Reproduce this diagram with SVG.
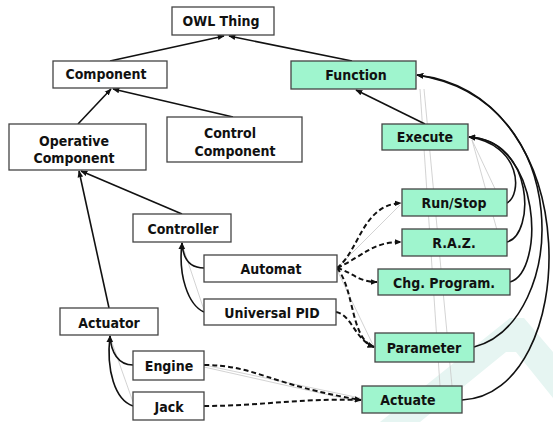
<svg xmlns="http://www.w3.org/2000/svg" width="553" height="422" viewBox="0 0 553 422">
<defs>
<marker id="ah" viewBox="0 0 10 10" refX="9" refY="5" markerWidth="7" markerHeight="7" orient="auto" markerUnits="userSpaceOnUse">
<path d="M0,1 L10,5 L0,9 z" fill="#111"/>
</marker>
<style>
.box{fill:#fff;stroke:#444;stroke-width:1.3}
.fn{fill:#9ff5ce;stroke:#444;stroke-width:1.3}
.t{font-family:"DejaVu Sans Condensed","DejaVu Sans",sans-serif;font-stretch:condensed;font-size:14px;font-weight:bold;fill:#111;text-anchor:middle}
.c{fill:none;stroke:#111;stroke-width:1.6}
.d{fill:none;stroke:#111;stroke-width:2;stroke-dasharray:5,3}
.g{fill:none;stroke:#c8c8c8;stroke-width:0.8}
</style>
</defs>
<rect width="553" height="422" fill="#fff"/>
<polygon points="380,422 510,318 524,318 553,352 553,398 516,352 506,352 420,422" fill="#e6f5f2"/>
<g id="ghost">
<path class="g" d="M420,89 L440,386"/>
<path class="g" d="M424,89 L452,386"/>
<path class="g" d="M472,140 L497,230"/>
<path class="g" d="M472,140 L505,210"/>
<path class="g" d="M204,365 L360,398"/>
<path class="g" d="M204,367 L360,402"/>
<path class="g" d="M337,268 L400,205"/>
<path class="g" d="M337,270 L373,345"/>
<path class="g" d="M182,244 L204,310"/>
<path class="g" d="M110,337 L133,402"/>
</g>
<g id="connectors">
<path class="c" d="M110,61 L224,36" marker-end="url(#ah)"/>
<path class="c" d="M352,61 L229,36" marker-end="url(#ah)"/>
<path class="c" d="M78,124 L111,89" marker-end="url(#ah)"/>
<path class="c" d="M233,117 L113,89" marker-end="url(#ah)"/>
<path class="c" d="M425,124 L356,90" marker-end="url(#ah)"/>
<path class="c" d="M182,214 L81,171" marker-end="url(#ah)"/>
<path class="c" d="M109,308 L79,171" marker-end="url(#ah)"/>
<path class="c" d="M204,268 C190,268 183,260 182,243" marker-end="url(#ah)"/>
<path class="c" d="M204,312 C188,305 178,275 182,243" marker-end="url(#ah)"/>
<path class="c" d="M133,365 C118,365 111,352 110,336" marker-end="url(#ah)"/>
<path class="c" d="M133,406 C115,400 106,370 110,336" marker-end="url(#ah)"/>
<path class="c" d="M507,203 C522,195 522,145 469,137" marker-end="url(#ah)"/>
<path class="c" d="M507,242 C535,235 535,140 469,137" marker-end="url(#ah)"/>
<path class="c" d="M510,282 C545,272 542,140 469,137" marker-end="url(#ah)"/>
<path class="c" d="M474,347 C568,322 578,100 417,75" marker-end="url(#ah)"/>
<path class="c" d="M462,400 C580,395 590,95 417,75" marker-end="url(#ah)"/>
<path class="d" d="M337,268 C360,250 362,205 401,203" marker-end="url(#ah)"/>
<path class="d" d="M337,268 C365,255 372,242 401,242" marker-end="url(#ah)"/>
<path class="d" d="M337,268 C352,272 358,282 377,282" marker-end="url(#ah)"/>
<path class="d" d="M337,268 C355,290 350,338 374,347" marker-end="url(#ah)"/>
<path class="d" d="M336,312 C352,315 355,340 374,347" marker-end="url(#ah)"/>
<path class="d" d="M204,365 C255,365 270,385 361,400" marker-end="url(#ah)"/>
<path class="d" d="M204,406 C260,406 300,398 361,400" marker-end="url(#ah)"/>
</g>
<g id="owl-thing"><rect class="box" x="172" y="7" width="102" height="28"/><text class="t" x="221" y="26">OWL Thing</text></g>
<g id="component"><rect class="box" x="53" y="61" width="114" height="27"/><text class="t" x="106" y="79">Component</text></g>
<g id="operative-component"><rect class="box" x="9" y="124" width="137" height="46"/><text class="t" x="74" y="146">Operative</text><text class="t" x="74" y="163">Component</text></g>
<g id="control-component"><rect class="box" x="167" y="117" width="135" height="45"/><text class="t" x="230" y="138">Control</text><text class="t" x="235" y="156">Component</text></g>
<g id="function"><rect class="fn" x="291" y="61" width="125" height="28"/><text class="t" x="356" y="80">Function</text></g>
<g id="execute"><rect class="fn" x="382" y="124" width="86" height="26"/><text class="t" x="425" y="142">Execute</text></g>
<g id="controller"><rect class="box" x="133" y="214" width="98" height="28"/><text class="t" x="183" y="234">Controller</text></g>
<g id="automat"><rect class="box" x="204" y="255" width="133" height="27"/><text class="t" x="271" y="274">Automat</text></g>
<g id="universal-pid"><rect class="box" x="204" y="299" width="132" height="26"/><text class="t" x="272" y="318">Universal PID</text></g>
<g id="actuator"><rect class="box" x="60" y="308" width="98" height="27"/><text class="t" x="109" y="328">Actuator</text></g>
<g id="engine"><rect class="box" x="133" y="351" width="71" height="29"/><text class="t" x="169" y="371">Engine</text></g>
<g id="jack"><rect class="box" x="133" y="392" width="71" height="28"/><text class="t" x="169" y="412">Jack</text></g>
<g id="run-stop"><rect class="fn" x="402" y="189" width="105" height="27"/><text class="t" x="454" y="208">Run/Stop</text></g>
<g id="raz"><rect class="fn" x="402" y="229" width="105" height="27"/><text class="t" x="454" y="248">R.A.Z.</text></g>
<g id="chg-program"><rect class="fn" x="378" y="269" width="132" height="26"/><text class="t" x="444" y="288">Chg. Program.</text></g>
<g id="parameter"><rect class="fn" x="375" y="333" width="99" height="29"/><text class="t" x="424" y="353">Parameter</text></g>
<g id="actuate"><rect class="fn" x="362" y="386" width="100" height="27"/><text class="t" x="408" y="405">Actuate</text></g>
</svg>
